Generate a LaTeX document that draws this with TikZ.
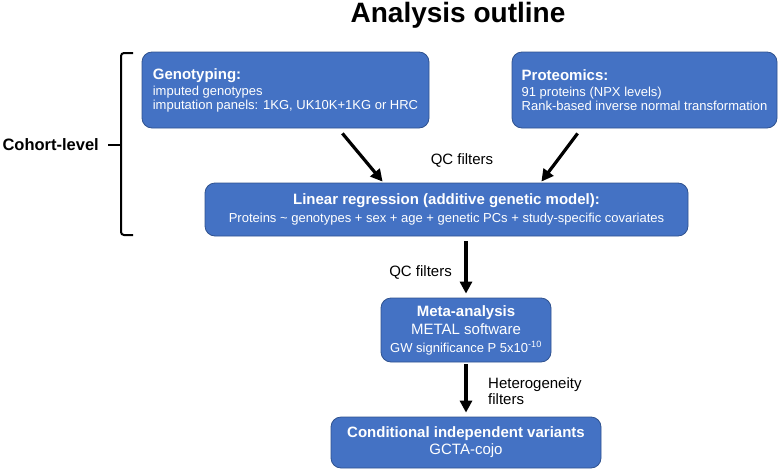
\documentclass[tikz,border=0pt]{standalone}
\usepackage{fontspec}
\setmainfont{Liberation Sans}
\usetikzlibrary{arrows.meta}
\definecolor{boxfill}{RGB}{68,114,196}
\definecolor{boxline}{RGB}{47,82,143}
\begin{document}
\begin{tikzpicture}[x=1pt,y=-1pt,
  box/.style={draw=boxline, line width=0.8pt, fill=boxfill, rounded corners=10pt, text=white, inner sep=0pt},
  arr/.style={line width=3.2pt, -{Triangle[width=12pt,length=12pt]}},
  lbl/.style={font=\fontsize{15}{16}\selectfont, inner sep=0pt},
  brace/.style={line width=2pt, rounded corners=3pt}]
\useasboundingbox (0,0) rectangle (784,471);
\node[font=\fontsize{28}{30}\selectfont\bfseries, inner sep=0pt] (title) at (458,15) {Analysis outline};

\node[box, minimum width=287pt, minimum height=76pt, align=left, font=\fontsize{13}{14}\selectfont] (geno) at (285.5,90)
  {{\fontsize{15}{14}\selectfont\bfseries Genotyping:}\\[2pt]imputed genotypes\\imputation panels: 1KG, UK10K+1KG or HRC};
\node[box, minimum width=265pt, minimum height=76pt, align=left, font=\fontsize{13}{14}\selectfont] (prot) at (644.5,90)
  {{\fontsize{15}{14}\selectfont\bfseries Proteomics:}\\[2pt]91 proteins (NPX levels)\\Rank-based inverse normal transformation};
\node[box, minimum width=483pt, minimum height=53pt, align=center, font=\fontsize{13}{18}\selectfont] (linreg) at (446.5,209.5)
  {{\fontsize{15}{18}\selectfont\bfseries Linear regression (additive genetic model):}\\Proteins \textasciitilde{} genotypes + sex + age + genetic PCs + study-specific covariates};
\node[box, minimum width=170pt, minimum height=64pt, align=center, font=\fontsize{15}{18}\selectfont] (meta) at (466,330)
  {\textbf{Meta-analysis}\\METAL software\\{\fontsize{13}{18}\selectfont GW significance P 5x10\textsuperscript{-10}}};
\node[box, minimum width=270pt, minimum height=51pt, align=center, font=\fontsize{15}{17}\selectfont] (cond) at (466,442.5)
  {\textbf{Conditional independent variants}\\GCTA-cojo};

\draw[arr] ([shift={(-87,5)}]geno.south east) -- ([shift={(178,-1)}]linreg.north west);
\draw[arr] ([shift={(66,5)}]prot.south west) -- ([shift={(-147,-1)}]linreg.north east);
\coordinate (m1) at (linreg.south -| meta.north);
\draw[arr] ([shift={(0,5)}]m1) -- ([shift={(0,-4)}]meta.north);
\draw[arr] ([shift={(0,2)}]meta.south) -- ([shift={(0,-4)}]cond.north);

\node[lbl] (qc1) at (462,160) {QC filters};
\node[lbl, anchor=east] (qc2) at (452,272) {QC filters};
\node[lbl, anchor=west, align=left] (het) at (488,391) {Heterogeneity\\filters};

\node[font=\fontsize{16.5}{20}\selectfont\bfseries, anchor=east, inner sep=0pt] (cohort) at (99,145) {Cohort-level};
\coordinate (brtop) at (133,53);
\coordinate (brbot) at (133,235);
\coordinate (brmid) at (121,145);
\draw[brace] (brtop) -- (brtop -| brmid) -- (brbot -| brmid) -- (brbot);
\draw[line width=2.5pt] (brmid) -- ([shift={(9,0)}]cohort.east);
\end{tikzpicture}
\end{document}
